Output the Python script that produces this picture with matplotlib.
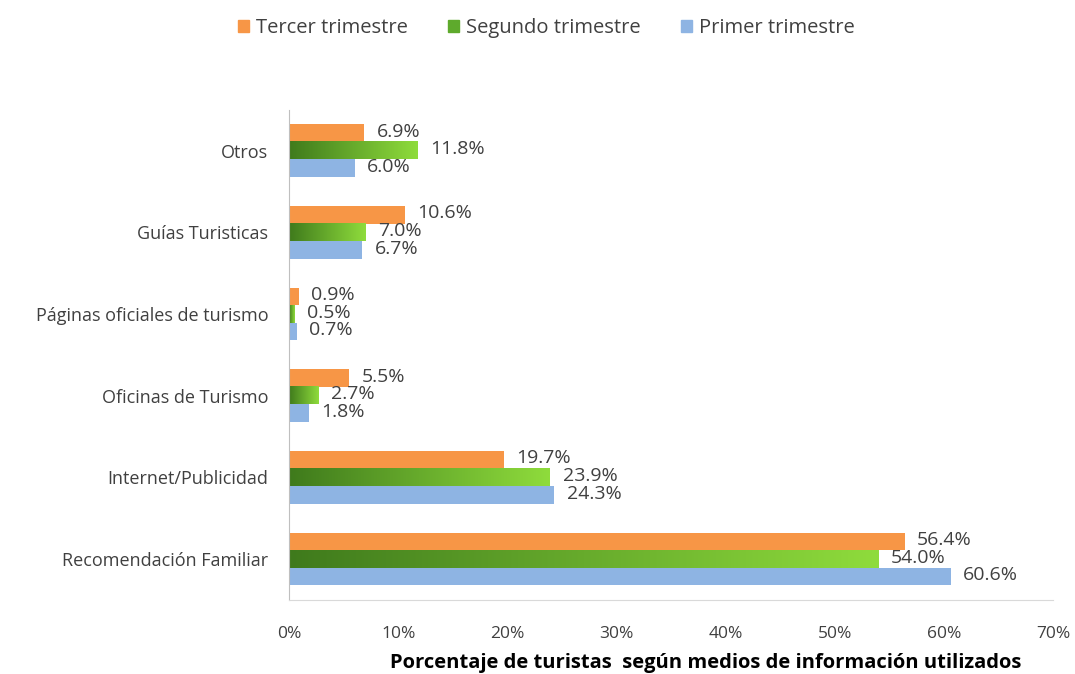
import matplotlib
matplotlib.use("Agg")
import matplotlib.pyplot as plt
import numpy as np
from matplotlib.patches import Patch

categories = ["Recomendación Familiar", "Internet/Publicidad", "Oficinas de Turismo",
              "Páginas oficiales de turismo", "Guías Turisticas", "Otros"]
tercer = [56.4, 19.7, 5.5, 0.9, 10.6, 6.9]
segundo = [54.0, 23.9, 2.7, 0.5, 7.0, 11.8]
primer = [60.6, 24.3, 1.8, 0.7, 6.7, 6.0]
xticks = [0, 10, 20, 30, 40, 50, 60, 70]

plt.rcParams["font.family"] = ["Open Sans", "DejaVu Sans"]
TXT = "#404040"
ORANGE = "#F79646"
BLUE = "#8EB4E3"
GREEN_DARK = "#3F7A1C"
GREEN_LIGHT = "#8FDC3C"

fig = plt.figure(figsize=(10.75, 6.74), dpi=100)
ax = fig.add_axes([0.269, 0.110, 0.7107, 0.727])

y = np.arange(len(categories))
h = 0.215
ax.barh(y + h, tercer, height=h, color=ORANGE)
green = ax.barh(y, segundo, height=h, color="none")
ax.barh(y - h, primer, height=h, color=BLUE)

# horizontal gradient on green bars
cmap = matplotlib.colors.LinearSegmentedColormap.from_list("g", [GREEN_DARK, GREEN_LIGHT])
grad = np.linspace(0, 1, 256).reshape(1, -1)
for rect in green:
    x0, y0 = rect.get_x(), rect.get_y()
    w, hh = rect.get_width(), rect.get_height()
    ax.imshow(grad, cmap=cmap, aspect="auto", extent=[x0, x0 + w, y0, y0 + hh],
              interpolation="bicubic", zorder=2)

for vals, off in [(tercer, h), (segundo, 0), (primer, -h)]:
    for yi, v in zip(y, vals):
        ax.annotate(f"{v:.1f}%", (v, yi + off), xytext=(9, 1), textcoords="offset points",
                    va="center", ha="left", fontsize=14, color=TXT)

ax.set_xlim(0, 70)
ax.set_ylim(-0.5, len(categories) - 0.5)
ax.set_xticks(xticks)
ax.set_xticklabels([f"{t}%" for t in xticks])
ax.set_yticks(y)
ax.set_yticklabels(categories)
ax.tick_params(axis="both", length=0, colors=TXT)
ax.tick_params(axis="x", pad=19, labelsize=12.5)
ax.tick_params(axis="y", pad=15, labelsize=13)
for s in ["top", "right"]:
    ax.spines[s].set_visible(False)
ax.spines["left"].set_color("#BFBFBF")
ax.spines["bottom"].set_color("#D9D9D9")
ax.set_xlabel("Porcentaje de turistas  según medios de información utilizados",
              fontsize=14.5, fontweight="bold", color="black")
ax.xaxis.set_label_coords(0.545, -0.108)

handles = [Patch(color=ORANGE, label="Tercer trimestre"),
           Patch(color="#5EAA2C", label="Segundo trimestre"),
           Patch(color=BLUE, label="Primer trimestre")]
fig.legend(handles=handles, loc="center", bbox_to_anchor=(0.508, 0.958), ncol=3,
           frameon=False, fontsize=14.5, labelcolor=TXT, handlelength=0.55,
           handleheight=0.55, handletextpad=0.35, columnspacing=2.0)

fig.savefig("out.png", dpi=100)
